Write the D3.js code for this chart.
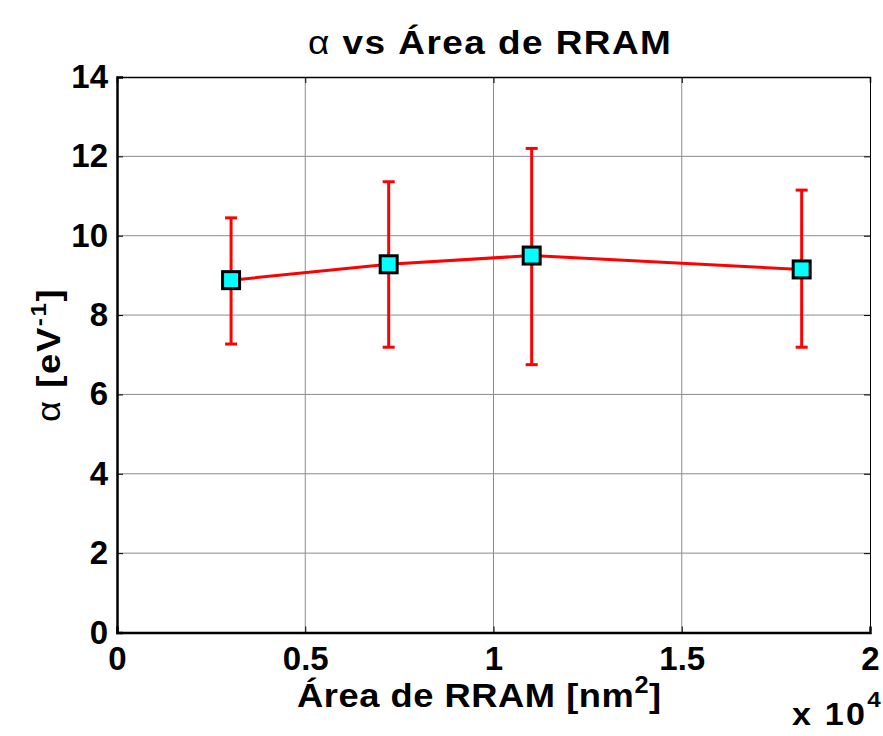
<!DOCTYPE html>
<html>
<head>
<meta charset="utf-8">
<script src="https://cdn.jsdelivr.net/npm/d3@7"></script>
<style>
  html, body { margin: 0; padding: 0; background: #fff; }
  svg { display: block; font-family: "Liberation Sans", Arial, sans-serif; }
</style>
</head>
<body>
<svg id="chart" width="883" height="736"></svg>
<script>
// Area of the RRAM cell (nm^2) and the extracted alpha (eV^-1)
const areas   = [3030, 7216, 11014, 18185];
const alpha   = [8.88, 9.28, 9.50, 9.15];
const errLow  = [7.27, 7.19, 6.75, 7.19];
const errHigh = [10.45, 11.36, 12.20, 11.15];

const xTicks = [0, 5000, 10000, 15000, 20000];
const xTickLabels = ["0", "0.5", "1", "1.5", "2"];
const yTicks = [0, 2, 4, 6, 8, 10, 12, 14];

const svg = d3.select("#chart");
const m = { left: 117, right: 870, top: 77, bottom: 632.5 };

const x = d3.scaleLinear().domain([0, 20000]).range([m.left, m.right]);
const y = d3.scaleLinear().domain([0, 14]).range([m.bottom, m.top]);

// grid
const grid = svg.append("g");
grid.selectAll(".gx").data(xTicks.slice(1, -1)).join("line")
  .attr("x1", d => x(d)).attr("x2", d => x(d))
  .attr("y1", m.top).attr("y2", m.bottom)
  .attr("stroke", "#8c8c8c").attr("stroke-width", 1);
grid.selectAll(".gy").data(yTicks.slice(1, -1)).join("line")
  .attr("x1", m.left).attr("x2", m.right)
  .attr("y1", d => y(d)).attr("y2", d => y(d))
  .attr("stroke", "#8c8c8c").attr("stroke-width", 1);

// axes with inward ticks
const xAxis = d3.axisBottom(x).tickValues(xTicks).tickSize(-6)
  .tickFormat((d, i) => xTickLabels[i]).tickPadding(14);
const yAxis = d3.axisLeft(y).tickValues(yTicks).tickSize(-6).tickPadding(9);
const xTop = d3.axisTop(x).tickValues(xTicks).tickSize(-6).tickFormat("");
const yRight = d3.axisRight(y).tickValues(yTicks).tickSize(-6).tickFormat("");

function styleAxis(g, w) {
  g.select(".domain").attr("stroke", "#000").attr("stroke-width", w);
  g.selectAll(".tick line").attr("stroke", "#000").attr("stroke-width", 1);
  g.selectAll("text").attr("fill", "#000").attr("font-size", 33)
    .attr("font-family", "'Liberation Sans', Arial, sans-serif")
    .attr("font-weight", "bold");
}
svg.append("g").attr("transform", `translate(0,${m.top})`).call(xTop).call(g => styleAxis(g, 1.5));
svg.append("g").attr("transform", `translate(${m.right},0)`).call(yRight).call(g => styleAxis(g, 1));
svg.append("g").attr("transform", `translate(0,${m.bottom})`).call(xAxis).call(g => styleAxis(g, 2.5));
svg.append("g").attr("transform", `translate(${m.left},0)`).call(yAxis).call(g => styleAxis(g, 2.5));

// error bars
const pts = areas.map((a, i) => ({ a, v: alpha[i], lo: errLow[i], hi: errHigh[i] }));
const eb = svg.append("g").attr("stroke", "#ff0000").attr("stroke-width", 3);
eb.selectAll(".v").data(pts).join("line")
  .attr("x1", d => x(d.a)).attr("x2", d => x(d.a))
  .attr("y1", d => y(d.lo)).attr("y2", d => y(d.hi));
eb.selectAll(".cl").data(pts).join("line")
  .attr("x1", d => x(d.a) - 6).attr("x2", d => x(d.a) + 6)
  .attr("y1", d => y(d.lo)).attr("y2", d => y(d.lo));
eb.selectAll(".ch").data(pts).join("line")
  .attr("x1", d => x(d.a) - 6).attr("x2", d => x(d.a) + 6)
  .attr("y1", d => y(d.hi)).attr("y2", d => y(d.hi));

// connecting line
svg.append("path").datum(pts)
  .attr("fill", "none").attr("stroke", "#ff0000").attr("stroke-width", 3)
  .attr("d", d3.line().x(d => x(d.a)).y(d => y(d.v)));

// square markers
const s = 17;
svg.append("g").selectAll("rect").data(pts).join("rect")
  .attr("x", d => x(d.a) - s / 2).attr("y", d => y(d.v) - s / 2)
  .attr("width", s).attr("height", s)
  .attr("fill", "#00ffff").attr("stroke", "#000").attr("stroke-width", 3);

// title (slightly widened glyphs)
const title = svg.append("text").attr("transform", "translate(308,54) scale(1.12,1)")
  .attr("font-size", 33).attr("letter-spacing", 1.3).attr("fill", "#000");
title.append("tspan").attr("font-weight", "normal").text("α");
title.append("tspan").attr("font-weight", "bold").text(" vs Área de RRAM");

// x label
const xl = svg.append("text").attr("transform", "translate(297,707) scale(1.1,1)")
  .attr("font-size", 33).attr("letter-spacing", 0.5)
  .attr("font-weight", "bold").attr("fill", "#000");
xl.append("tspan").text("Área de RRAM [nm");
xl.append("tspan").attr("font-size", 23).attr("dy", -14).text("2");
xl.append("tspan").attr("dy", 14).text("]");

// exponent label
const ex = svg.append("text").attr("transform", "translate(792,725) scale(1.1,1)")
  .attr("font-size", 31).attr("letter-spacing", 2)
  .attr("font-weight", "bold").attr("fill", "#000");
ex.append("tspan").text("x 10");
ex.append("tspan").attr("font-size", 22).attr("dy", -18).text("4");

// y label
const yl = svg.append("text").attr("transform", "translate(60,422) rotate(-90) scale(1.1,1)")
  .attr("font-size", 33).attr("letter-spacing", 1.5).attr("fill", "#000");
yl.append("tspan").attr("font-weight", "normal").text("α ");
yl.append("tspan").attr("font-weight", "bold").text("[eV");
yl.append("tspan").attr("font-weight", "bold").attr("font-size", 22).attr("dy", -14).text("-1");
yl.append("tspan").attr("font-weight", "bold").attr("dy", 14).text("]");
</script>
</body>
</html>
